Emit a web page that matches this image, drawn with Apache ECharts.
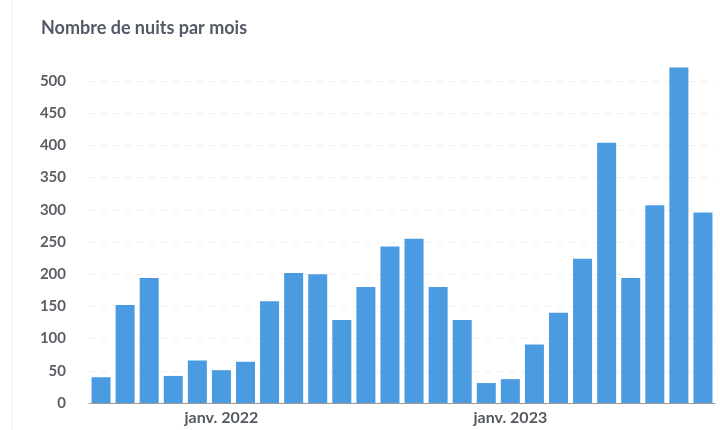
<!DOCTYPE html>
<html><head><meta charset="utf-8">
<script src="https://cdn.jsdelivr.net/npm/echarts@6/dist/echarts.min.js"></script>
<style>html,body{margin:0;padding:0;background:#fff}#c{width:720px;height:430px}</style>
</head><body><div id="c"></div>
<script>
const months = ["août 2021","sept. 2021","oct. 2021","nov. 2021","déc. 2021",
  "janv. 2022","févr. 2022","mars 2022","avr. 2022","mai 2022","juin 2022","juil. 2022","août 2022","sept. 2022","oct. 2022","nov. 2022","déc. 2022",
  "janv. 2023","févr. 2023","mars 2023","avr. 2023","mai 2023","juin 2023","juil. 2023","août 2023","sept. 2023"];
const nights = [40,152,194,42,66,51,64,158,202,200,129,180,243,255,180,129,31,37,91,140,224,404,194,307,521,296];
const yTicks = [0,50,100,150,200,250,300,350,400,450,500];

const chart = echarts.init(document.getElementById('c'));
chart.setOption({
  animation:false,
  title:{text:'Nombre de nuits par mois',left:36,top:14,
    textStyle:{fontFamily:'Lato',fontWeight:'bold',fontSize:18,color:'#545966'}},
  graphic:[{type:'line',shape:{x1:12,y1:0,x2:12,y2:430},style:{stroke:'#efefef',lineWidth:1}}],
  grid:{left:89,right:5,top:403-530*0.644,bottom:27},
  xAxis:{type:'category',data:months,
    axisLine:{lineStyle:{color:'#9a9a9a'}},
    axisTick:{show:false},
    axisLabel:{interval:(i,v)=>v.startsWith('janv.'),margin:7,
      fontFamily:'Lato',fontWeight:'bold',fontSize:16,color:'#555a60'}},
  yAxis:{type:'value',min:0,max:530,interval:50,
    axisLabel:{margin:23,showMaxLabel:false,fontFamily:'Lato',fontWeight:'bold',fontSize:15,color:'#5a5d63',
      formatter:v=>yTicks.includes(v)?String(v):''},
    splitLine:{showMaxLine:false,lineStyle:{color:'#f0f0f0',type:[6,6]}},
    axisLine:{show:false},axisTick:{show:false}},
  series:[{type:'bar',data:nights,barWidth:19,itemStyle:{color:'#4a9be0'}}]
});
</script></body></html>
